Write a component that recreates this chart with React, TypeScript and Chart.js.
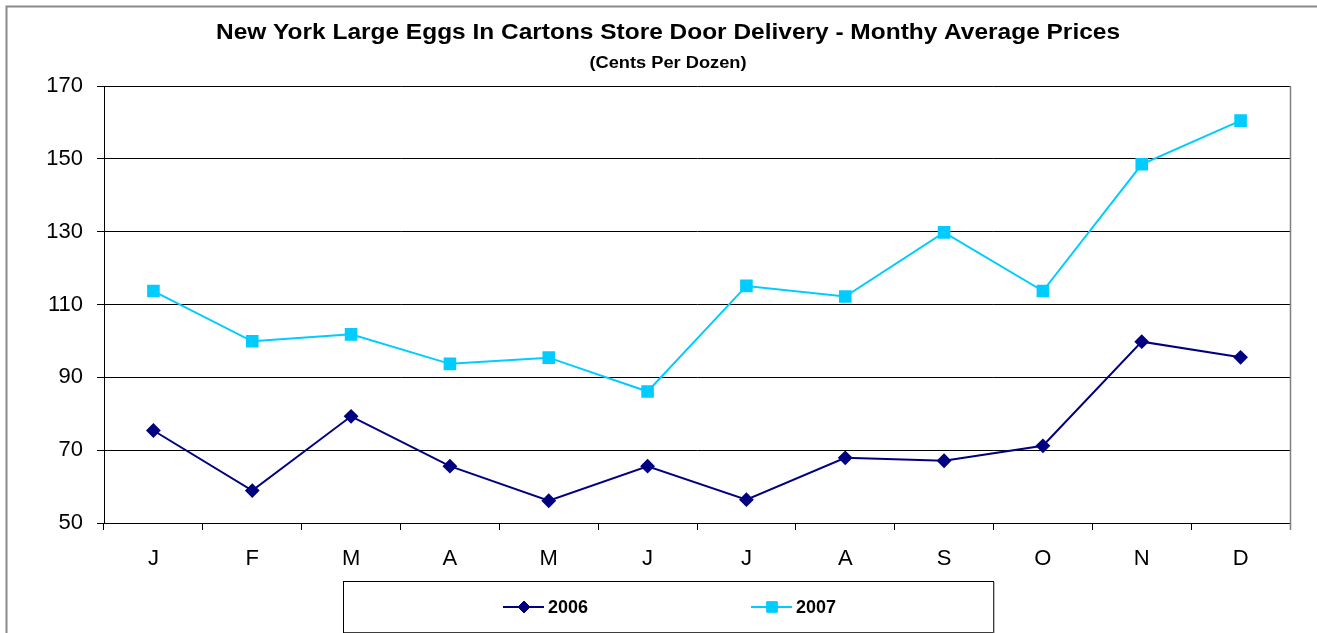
import React, { useEffect, useRef } from "react";
import { Chart, registerables } from "chart.js";
import { drawPoint } from "chart.js/helpers";

Chart.register(...registerables);

const months = ["J", "F", "M", "A", "M", "J", "J", "A", "S", "O", "N", "D"];
const series2006 = [75.4, 58.9, 79.3, 65.6, 56.1, 65.6, 56.4, 67.9, 67.1, 71.2, 99.8, 95.5];
const series2007 = [113.7, 99.9, 101.8, 93.7, 95.4, 86.1, 115.1, 112.2, 129.8, 113.7, 148.5, 160.5];
const yTicks = [50, 70, 90, 110, 130, 150, 170];

const titleText = "New York Large Eggs In Cartons Store Door Delivery - Monthy Average Prices";
const subtitleText = "(Cents Per Dozen)";

const FONT = "'Liberation Sans', Arial, Helvetica, sans-serif";

const decorPlugin = {
  id: "decor",
  beforeDraw(chart: any) {
    const ctx = chart.ctx;
    ctx.save();
    ctx.fillStyle = "#ffffff";
    ctx.fillRect(0, 0, chart.width, chart.height);
    ctx.strokeStyle = "#8a8a8a";
    ctx.lineWidth = 2;
    ctx.beginPath();
    ctx.moveTo(6.5, chart.height + 2);
    ctx.lineTo(6.5, 6.5);
    ctx.lineTo(chart.width + 2, 6.5);
    ctx.stroke();
    ctx.restore();
  },
  afterDraw(chart: any) {
    const ctx = chart.ctx;
    const area = chart.chartArea;
    ctx.save();
    ctx.strokeStyle = "#808080";
    ctx.lineWidth = 1.5;
    ctx.beginPath();
    ctx.moveTo(area.right + 0.5, area.top);
    ctx.lineTo(area.right + 0.5, area.bottom + 7);
    ctx.stroke();

    const drawStretched = (text: string, size: number, cx: number, cy: number, targetW: number) => {
      ctx.font = `bold ${size}px ${FONT}`;
      const w = ctx.measureText(text).width;
      const sx = targetW / w;
      ctx.save();
      ctx.translate(cx, cy);
      ctx.scale(sx, 1);
      ctx.fillStyle = "#000000";
      ctx.textAlign = "center";
      ctx.textBaseline = "middle";
      ctx.fillText(text, 0, 0);
      ctx.restore();
    };
    drawStretched(titleText, 22.5, 668, 33, 904);
    drawStretched(subtitleText, 16, 668, 64, 157);

    const lx = 343, ly = 581, lw = 650, lh = 51;
    ctx.fillStyle = "#ffffff";
    ctx.fillRect(lx, ly, lw, lh);
    ctx.strokeStyle = "#000000";
    ctx.lineWidth = 1;
    ctx.strokeRect(lx + 0.5, ly + 0.5, lw, lh);
    ctx.strokeStyle = "#7a7a7a";
    ctx.beginPath();
    ctx.moveTo(lx + 1, ly + lh + 1);
    ctx.lineTo(lx + lw + 1, ly + lh + 1);
    ctx.lineTo(lx + lw + 1, ly + 1);
    ctx.stroke();

    const itemX = [503, 751];
    const cy = 607;
    chart.data.datasets.forEach((ds: any, i: number) => {
      const x0 = itemX[i];
      ctx.strokeStyle = ds.borderColor;
      ctx.lineWidth = 2;
      ctx.beginPath();
      ctx.moveTo(x0, cy);
      ctx.lineTo(x0 + 41, cy);
      ctx.stroke();
      ctx.fillStyle = ds.pointBackgroundColor;
      ctx.strokeStyle = ds.pointBorderColor;
      ctx.lineWidth = 1;
      drawPoint(ctx, { pointStyle: ds.pointStyle, radius: ds.pointRadius, borderWidth: 1, rotation: 0 }, x0 + 21, cy);
      ctx.fillStyle = "#000000";
      ctx.font = `bold 18px ${FONT}`;
      ctx.textAlign = "left";
      ctx.textBaseline = "middle";
      ctx.fillText(ds.label, x0 + 45, cy + 1);
    });
    ctx.restore();
  },
};

export default function App() {
  const ref = useRef<HTMLCanvasElement | null>(null);
  useEffect(() => {
    document.body.style.margin = "0";
    if (!ref.current) return;
    const chart = new Chart(ref.current, {
      type: "line",
      data: {
        labels: months,
        datasets: [
          {
            label: "2006",
            data: series2006,
            borderColor: "#000080",
            backgroundColor: "#000080",
            pointBackgroundColor: "#000080",
            pointBorderColor: "#000080",
            pointStyle: "rectRot",
            pointRadius: 6,
            borderWidth: 2,
            tension: 0,
            fill: false,
          },
          {
            label: "2007",
            data: series2007,
            borderColor: "#00CCFF",
            backgroundColor: "#00CCFF",
            pointBackgroundColor: "#00CCFF",
            pointBorderColor: "#00CCFF",
            pointStyle: "rect",
            pointRadius: 7.5,
            borderWidth: 2,
            tension: 0,
            fill: false,
          },
        ],
      },
      options: {
        animation: false,
        responsive: false,
        maintainAspectRatio: false,
        devicePixelRatio: 1,
        layout: { padding: { left: 0, right: 27, top: 86, bottom: 50 } },
        plugins: {
          legend: { display: false },
          title: { display: false },
          tooltip: { enabled: false },
        },
        scales: {
          x: {
            type: "category",
            offset: true,
            grid: {
              offset: true,
              drawOnChartArea: false,
              drawTicks: true,
              tickLength: 7,
              color: "#000000",
              lineWidth: 1,
            },
            border: { display: true, color: "#000000", width: 1 },
            ticks: {
              color: "#000000",
              font: { family: FONT, size: 22 },
              padding: 16,
              maxRotation: 0,
              autoSkip: false,
            },
            afterFit: (scale: any) => {
              scale.height = 60;
            },
          },
          y: {
            min: 50,
            max: 170,
            afterBuildTicks: (scale: any) => {
              scale.ticks = yTicks.map((v) => ({ value: v }));
            },
            grid: {
              color: "#000000",
              lineWidth: 1,
              tickLength: 7,
              drawTicks: true,
            },
            border: { display: true, color: "#000000", width: 1 },
            ticks: {
              color: "#000000",
              font: { family: FONT, size: 22 },
              padding: 14,
            },
            afterFit: (scale: any) => {
              scale.width = 104;
            },
          },
        },
      },
      plugins: [decorPlugin],
    });
    return () => chart.destroy();
  }, []);
  return (
    <div style={{ position: "absolute", left: 0, top: 0, width: 1317, height: 633 }}>
      <canvas ref={ref} width={1317} height={633} style={{ width: 1317, height: 633, display: "block" }} />
    </div>
  );
}
